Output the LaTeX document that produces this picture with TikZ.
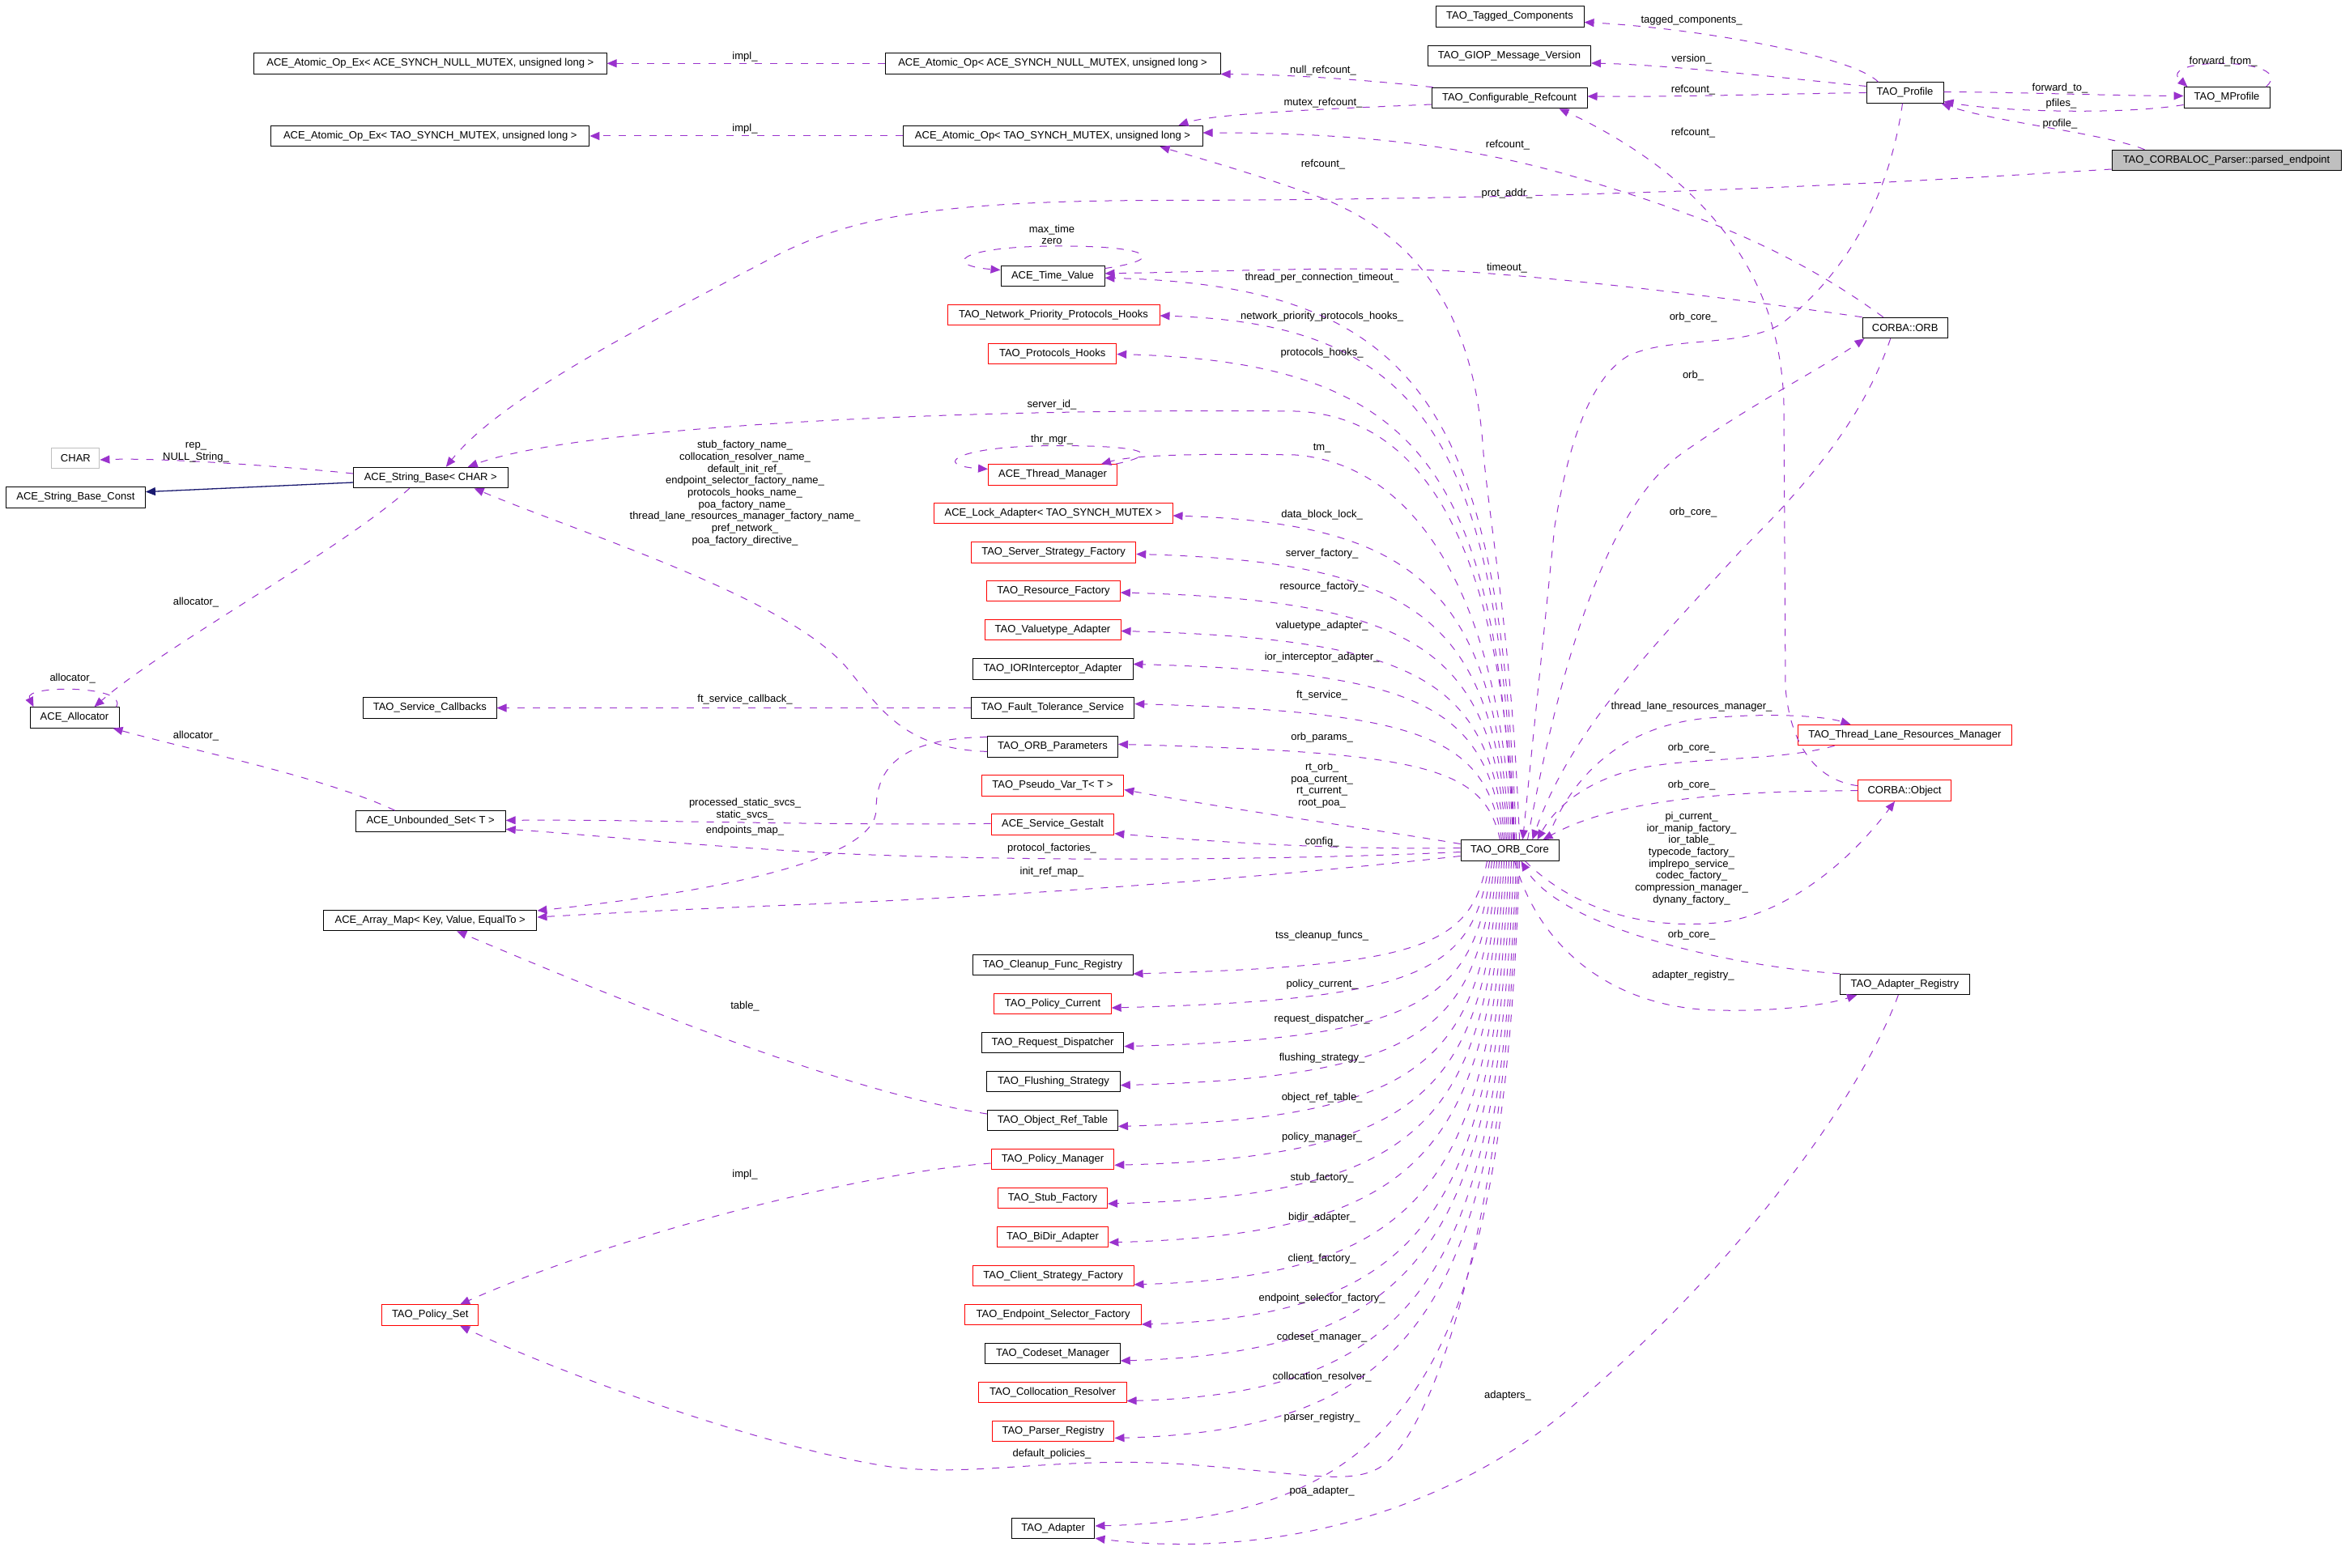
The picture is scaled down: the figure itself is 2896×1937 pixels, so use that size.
\documentclass[tikz,border=0pt]{standalone}
\usepackage{fontspec}
\setmainfont{Liberation Sans}
\usetikzlibrary{arrows.meta,calc}
\definecolor{edgec}{HTML}{9A32CD}
\definecolor{inhc}{HTML}{191970}
\definecolor{greyc}{HTML}{BFBFBF}
\newcommand\nf{\fontsize{13}{14.7}\selectfont}
% member edge from the top of TAO_ORB_Core to a node of the middle column
\newcommand\CoreUp[6]{%
  \coordinate (tA) at ($(#2.east)+(0,#3)$);
  \coordinate (S) at ($(core.north)+(#1,0)$);
  \coordinate (bx) at (#4,0);
  \draw[dep] (S) .. controls ($(S)!0.75!(S |- tA)+(-20,0)$) and ($(tA -| bx)+(0,10)$) .. (tA);
  \node[lbl] (l-#2) at (1632.6,#6) {#5};}
% member edge from the bottom of TAO_ORB_Core to a node of the middle column
\newcommand\CoreDown[6]{%
  \coordinate (tA) at ($(#2.east)+(0,#3)$);
  \coordinate (S) at ($(core.south)+(#1,0)$);
  \coordinate (bx) at (#4,0);
  \draw[dep] (S) .. controls ($(S)!0.75!(S |- tA)+(-20,0)$) and ($(tA -| bx)+(0,-10)$) .. (tA);
  \node[lbl] (l-#2) at (1632.6,#6) {#5};}
\begin{document}
\begin{tikzpicture}[x=1pt,y=-1pt,
  nbox/.style={draw=black, line width=1pt, fill=white, minimum height=25.5pt, inner sep=0pt, font=\nf},
  rbox/.style={nbox, draw=red},
  gbox/.style={nbox, draw=greyc},
  sbox/.style={nbox, fill=greyc},
  lbl/.style={inner sep=0pt, font=\nf, align=center},
  dep/.style={draw=edgec, line width=1pt, dash pattern=on 9pt off 10pt, -{Triangle[length=12pt,width=10pt]}},
  inh/.style={draw=inhc, line width=1.3pt, -{Triangle[length=12pt,width=10pt]}}]
\fill[white] (0,0) rectangle (2896,1937);
\useasboundingbox (0,0) rectangle (2896,1937);

% ---------------- nodes ----------------
\node[nbox, minimum width=183pt] (tagged) at (1864.5,20.5) {TAO\_Tagged\_Components};
\node[nbox, minimum width=201pt] (giop) at (1864,69) {TAO\_GIOP\_Message\_Version};
\node[nbox, minimum width=192pt] (confref) at (1864,121) {TAO\_Configurable\_Refcount};
\node[nbox, minimum width=95pt] (profile) at (2352.5,114.5) {TAO\_Profile};
\node[nbox, minimum width=106pt] (mprofile) at (2750,120.5) {TAO\_MProfile};
\node[sbox, minimum width=283pt] (parsed) at (2749.5,198) {TAO\_CORBALOC\_Parser::parsed\_endpoint};
\node[nbox, minimum width=414pt] (aopnull) at (1300,78.3) {ACE\_Atomic\_Op< ACE\_SYNCH\_NULL\_MUTEX, unsigned long >};
\node[nbox, minimum width=435.5pt] (aopexnull) at (531.3,78.3) {ACE\_Atomic\_Op\_Ex< ACE\_SYNCH\_NULL\_MUTEX, unsigned long >};
\node[nbox, minimum width=393pt] (aopextao) at (531.3,168) {ACE\_Atomic\_Op\_Ex< TAO\_SYNCH\_MUTEX, unsigned long >};
\node[nbox, minimum width=370pt] (aoptao) at (1300,168) {ACE\_Atomic\_Op< TAO\_SYNCH\_MUTEX, unsigned long >};
\node[nbox, minimum width=128pt] (timev) at (1300,340.8) {ACE\_Time\_Value};
\node[rbox, minimum width=262pt] (npph) at (1301,389) {TAO\_Network\_Priority\_Protocols\_Hooks};
\node[rbox, minimum width=158pt] (ph) at (1299.7,437) {TAO\_Protocols\_Hooks};
\node[rbox, minimum width=159pt] (threadm) at (1300,586.4) {ACE\_Thread\_Manager};
\node[rbox, minimum width=295pt] (lockad) at (1300.5,634) {ACE\_Lock\_Adapter< TAO\_SYNCH\_MUTEX >};
\node[gbox, minimum width=59pt] (charn) at (93.4,566) {CHAR};
\node[nbox, minimum width=190.5pt] (strbase) at (531.8,590) {ACE\_String\_Base< CHAR >};
\node[nbox, minimum width=172pt] (strconst) at (93.4,614.6) {ACE\_String\_Base\_Const};
\node[rbox, minimum width=203.4pt] (ssf) at (1301,682.5) {TAO\_Server\_Strategy\_Factory};
\node[rbox, minimum width=164.6pt] (rf) at (1301,730) {TAO\_Resource\_Factory};
\node[rbox, minimum width=168pt] (vta) at (1300,778) {TAO\_Valuetype\_Adapter};
\node[nbox, minimum width=198pt] (iori) at (1300,826.4) {TAO\_IORInterceptor\_Adapter};
\node[nbox, minimum width=201.6pt] (fts) at (1300,874.5) {TAO\_Fault\_Tolerance\_Service};
\node[nbox, minimum width=161pt] (orbp) at (1300,922.4) {TAO\_ORB\_Parameters};
\node[rbox, minimum width=175.7pt] (pvar) at (1300,970.5) {TAO\_Pseudo\_Var\_T< T >};
\node[rbox, minimum width=151.7pt] (gestalt) at (1300,1018.4) {ACE\_Service\_Gestalt};
\node[nbox, minimum width=198pt] (cleanup) at (1300,1192) {TAO\_Cleanup\_Func\_Registry};
\node[rbox, minimum width=144.3pt] (polcur) at (1300,1240) {TAO\_Policy\_Current};
\node[nbox, minimum width=175.7pt] (reqd) at (1300,1288) {TAO\_Request\_Dispatcher};
\node[nbox, minimum width=164.5pt] (svccb) at (530.8,874.5) {TAO\_Service\_Callbacks};
\node[nbox, minimum width=110pt] (alloc) at (92,886.5) {ACE\_Allocator};
\node[nbox, minimum width=185pt] (uset) at (531.7,1014.4) {ACE\_Unbounded\_Set< T >};
\node[nbox, minimum width=263.5pt] (amap) at (531.2,1137) {ACE\_Array\_Map< Key, Value, EqualTo >};
\node[nbox, minimum width=164.6pt] (flush) at (1301,1336) {TAO\_Flushing\_Strategy};
\node[nbox, minimum width=161pt] (ort) at (1300,1384) {TAO\_Object\_Ref\_Table};
\node[rbox, minimum width=151.7pt] (polman) at (1300,1432) {TAO\_Policy\_Manager};
\node[rbox, minimum width=135pt] (stubf) at (1300,1480) {TAO\_Stub\_Factory};
\node[rbox, minimum width=137.8pt] (bidir) at (1300,1528) {TAO\_BiDir\_Adapter};
\node[rbox, minimum width=198.8pt] (csf) at (1300.6,1576) {TAO\_Client\_Strategy\_Factory};
\node[rbox, minimum width=217.3pt] (esf) at (1300.6,1624) {TAO\_Endpoint\_Selector\_Factory};
\node[nbox, minimum width=166.4pt] (codeset) at (1300,1672) {TAO\_Codeset\_Manager};
\node[rbox, minimum width=182.2pt] (colres) at (1300,1720) {TAO\_Collocation\_Resolver};
\node[rbox, minimum width=150.7pt] (parser) at (1300.6,1768) {TAO\_Parser\_Registry};
\node[nbox, minimum width=102.7pt] (adapter) at (1300.6,1888) {TAO\_Adapter};
\node[rbox, minimum width=119.3pt] (polset) at (531.2,1624.6) {TAO\_Policy\_Set};
\node[nbox, minimum width=105.4pt] (orb) at (2352.7,405) {CORBA::ORB};
\node[nbox, minimum width=121pt] (core) at (1864.5,1050.5) {TAO\_ORB\_Core};
\node[rbox, minimum width=264.7pt] (tlrm) at (2352.4,908) {TAO\_Thread\_Lane\_Resources\_Manager};
\node[rbox, minimum width=114.3pt] (object) at (2352,976.7) {CORBA::Object};
\node[nbox, minimum width=159.4pt] (adreg) at (2352.3,1216) {TAO\_Adapter\_Registry};

% ---------------- top right ----------------
\draw[dep] ($(profile.north west)+(15,0)$) .. controls (2290,70) and (2100,35) .. ($(tagged.east)+(0,7)$);
\node[lbl] (l1) at (2089,25) {tagged\_components\_};
\draw[dep] ($(profile.west)+(0,-8)$) .. controls (2200,96) and (2060,80) .. ($(giop.east)+(0,9)$);
\node[lbl] (l2) at (2089,73) {version\_};
\draw[dep] (profile.west) .. controls (2200,116) and (2060,120) .. ($(confref.east)+(0,-2)$);
\node[lbl] (l3) at (2091,111) {refcount\_};
\draw[dep] ($(profile.east)+(0,-1)$) .. controls (2500,114) and (2600,118) .. ($(mprofile.west)+(0,-2)$);
\node[lbl] (l4) at (2544,109) {forward\_to\_};
\draw[dep] ($(mprofile.west)+(0,9)$) .. controls (2620,142) and (2470,138) .. ($(profile.east)+(0,11)$);
\node[lbl] (l5) at (2545.5,128.5) {pfiles\_};
\draw[dep] ($(mprofile.north east)+(-5,0)$) .. controls (2840,70) and (2660,70) .. ($(mprofile.north west)+(5,0)$);
\node[lbl] (l6) at (2745.6,76) {forward\_from\_};
\draw[dep] ($(parsed.north west)+(41,0)$) .. controls (2600,165) and (2460,150) .. ($(profile.south east)+(-3,0)$);
\node[lbl] (l7) at (2544,153.4) {profile\_};
\draw[dep] ($(parsed.west)+(0,11)$) .. controls (2350,225) and (2000,246) .. (1450,247.5)
   .. controls (1150,247) and (1050,270) .. (960,315) .. controls (800,400) and (620,490) .. ($(strbase.north)+(19,0)$);
\node[lbl] (l8) at (1861,239) {prot\_addr\_};
\draw[dep] ($(confref.north west)+(2,0)$) .. controls (1700,100) and (1600,92) .. (aopnull.south east);
\node[lbl] (l9) at (1634,87) {null\_refcount\_};
\draw[dep] ($(confref.west)+(0,8)$) .. controls (1650,134) and (1500,140) .. ($(aoptao.north east)+(-30,0)$);
\node[lbl] (l10) at (1634,127) {mutex\_refcount\_};
\draw[dep] (aopnull.west) -- (aopexnull.east);
\node[lbl] (l11) at (920,70.5) {impl\_};
\draw[dep] (aoptao.west) -- (aopextao.east);
\node[lbl] (l12) at (920,159.6) {impl\_};
\draw[dep] ($(orb.north)+(-27,0)$) .. controls (2200,300) and (2080,260) .. (1950,220)
   .. controls (1800,175) and (1650,164) .. ($(aoptao.east)+(0,-4)$);
\node[lbl] (l13) at (1862,178.7) {refcount\_};
\draw[dep] ($(core.north)+(12,0)$) .. controls (1868,800) and (1840,650) .. (1832,560)
   .. controls (1822,400) and (1760,290) .. (1620,240) .. controls (1540,212) and (1480,195) .. ($(aoptao.south east)+(-53,0)$);
\node[lbl] (l14) at (1634,202.7) {refcount\_};
\draw[dep] ($(object.west)+(0,-6)$) .. controls (2250,965) and (2212,930) .. (2205,850) -- (2203,500)
   .. controls (2200,380) and (2150,290) .. (2060,215) .. controls (2010,175) and (1960,150) .. ($(confref.south east)+(-35,0)$);
\node[lbl] (l15) at (2091,163.8) {refcount\_};

% ---------------- time value ----------------
\draw[dep] ($(timev.north east)+(0,4)$) .. controls (1445,320) and (1420,303) .. (1300,304)
   .. controls (1180,305) and (1165,328) .. ($(timev.north west)+(0,6)$);
\node[lbl] (l16) at (1299,290) {max\_time\\zero};
\draw[dep] (orb.north west) .. controls (2150,370) and (1950,345) .. (1800,335)
   .. controls (1650,328) and (1500,336) .. ($(timev.east)+(0,-3)$);
\node[lbl] (l17) at (1861,330.8) {timeout\_};

% ---------------- ORB_Core upper fan ----------------
\CoreUp{8}{timev}{2.5}{1765}{thread\_per\_connection\_timeout\_}{343.3}
\CoreUp{6}{npph}{1}{1765}{network\_priority\_protocols\_hooks\_}{391}
\CoreUp{4}{ph}{0.5}{1762}{protocols\_hooks\_}{436.6}
\draw[dep] ($(core.north)+(5,0)$) .. controls (1858,720) and (1780,515) .. (1600,508)
   .. controls (1200,504) and (720,525) .. ($(strbase.north)+(46,0)$);
\node[lbl] (l18) at (1299,499.6) {server\_id\_};
\draw[dep] ($(core.north)+(2,0)$) .. controls (1855,760) and (1760,575) .. (1600,562)
   .. controls (1480,560) and (1400,562) .. ($(threadm.north east)+(-20,0)$);
\node[lbl] (l19) at (1632.6,553.5) {tm\_};
\draw[dep] ($(threadm.north east)+(-2,0)$) .. controls (1440,560) and (1410,550) .. (1300,550.6)
   .. controls (1180,551) and (1150,575) .. ($(threadm.west)+(0,-7)$);
\node[lbl] (l20) at (1299,543) {thr\_mgr\_};
\CoreUp{0}{lockad}{3}{1760}{data\_block\_lock\_}{636.4}
\CoreUp{-2}{ssf}{2}{1760}{server\_factory\_}{684}
\CoreUp{-4}{rf}{2}{1760}{resource\_factory\_}{725}
\CoreUp{-6}{vta}{1.5}{1760}{valuetype\_adapter\_}{772.7}
\CoreUp{-8}{iori}{-6}{1760}{ior\_interceptor\_adapter\_}{811.7}
\CoreUp{-10}{fts}{-5}{1760}{ft\_service\_}{859.4}
\CoreUp{-12}{orbp}{-3}{1765}{orb\_params\_}{911}
\draw[dep] ($(core.west)+(0,-8)$) .. controls (1700,1025) and (1520,1000) .. ($(pvar.east)+(0,5)$);
\node[lbl] (l21) at (1632.6,970.1) {rt\_orb\_\\poa\_current\_\\rt\_current\_\\root\_poa\_};
\draw[dep] ($(core.west)+(0,-3)$) .. controls (1650,1050) and (1500,1040) .. ($(gestalt.south east)+(0,-2)$);
\node[lbl] (l22) at (1632.6,1039.7) {config\_};
\draw[dep] ($(core.west)+(0,2)$) .. controls (1600,1062) and (1300,1065) .. (1050,1055)
   .. controls (850,1045) and (720,1030) .. ($(uset.east)+(0,10)$);
\node[lbl] (l23) at (1299,1048) {protocol\_factories\_};
\draw[dep] ($(core.west)+(0,7)$) .. controls (1600,1080) and (1300,1105) .. (1000,1117)
   .. controls (850,1123) and (750,1128) .. ($(amap.east)+(0,-4)$);
\node[lbl] (l24) at (1299,1077) {init\_ref\_map\_};

% ---------------- middle-left ----------------
\draw[dep] (fts.west) -- (svccb.east);
\node[lbl] (l25) at (920,864.3) {ft\_service\_callback\_};
\draw[dep] ($(gestalt.west)+(0,-1)$) .. controls (1000,1020) and (800,1012) .. ($(uset.east)+(0,-1)$);
\node[lbl] (l26) at (920,999.3) {processed\_static\_svcs\_\\static\_svcs\_};
\draw[dep] ($(orbp.west)+(0,6)$) .. controls (1120,925) and (1090,880) .. (1050,830)
   .. controls (980,740) and (720,660) .. ($(strbase.south east)+(-42,0)$);
\node[lbl] (l27) at (920,609.2) {stub\_factory\_name\_\\collocation\_resolver\_name\_\\default\_init\_ref\_\\endpoint\_selector\_factory\_name\_\\protocols\_hooks\_name\_\\poa\_factory\_name\_\\thread\_lane\_resources\_manager\_factory\_name\_\\pref\_network\_\\poa\_factory\_directive\_};
\draw[dep] ($(orbp.west)+(0,-12)$) .. controls (1110,912) and (1082,950) .. (1082,1000)
   .. controls (1082,1060) and (900,1100) .. ($(amap.east)+(0,-12)$);
\node[lbl] (l28) at (920,1026.4) {endpoints\_map\_};
\draw[dep] ($(uset.north)+(-44,0)$) .. controls (400,960) and (250,930) .. ($(alloc.south east)+(-8,0)$);
\node[lbl] (l29) at (242,909) {allocator\_};
\draw[dep] ($(strbase.south)+(-26,0)$) .. controls (420,680) and (200,800) .. ($(alloc.north east)+(-31,0)$);
\node[lbl] (l30) at (242,744.5) {allocator\_};
\draw[dep] ($(alloc.north east)+(-4,0)$) .. controls (160,846) and (28,846) .. ($(alloc.north west)+(5,0)$);
\node[lbl] (l31) at (89.7,838.5) {allocator\_};
\draw[dep] ($(strbase.west)+(0,-5)$) .. controls (360,577) and (200,565) .. ($(charn.east)+(0,2)$);
\node[lbl] (l32) at (242,558.7) {rep\_\\NULL\_String\_};
\draw[inh] ($(strbase.west)+(0,6)$) -- ($(strconst.east)+(0,-7)$);
\draw[dep] ($(ort.west)+(0,-8)$) .. controls (1050,1350) and (800,1250) .. ($(amap.south)+(33,0)$);
\node[lbl] (l33) at (920,1242.9) {table\_};
\draw[dep] ($(polman.west)+(0,5)$) .. controls (1050,1450) and (750,1530) .. ($(polset.north)+(37,0)$);
\node[lbl] (l34) at (920,1451) {impl\_};

% ---------------- ORB_Core lower fan ----------------
\CoreDown{-28}{cleanup}{11}{1760}{tss\_cleanup\_funcs\_}{1155.8}
\CoreDown{-25}{polcur}{5}{1760}{policy\_current\_}{1216}
\CoreDown{-22}{reqd}{4.6}{1760}{request\_dispatcher\_}{1259.5}
\CoreDown{-19}{flush}{4.6}{1760}{flushing\_strategy\_}{1307.3}
\CoreDown{-16}{ort}{7.4}{1760}{object\_ref\_table\_}{1356}
\CoreDown{-13}{polman}{7.3}{1760}{policy\_manager\_}{1404.8}
\CoreDown{-10}{stubf}{7}{1760}{stub\_factory\_}{1455}
\CoreDown{-7}{bidir}{6.8}{1760}{bidir\_adapter\_}{1504}
\CoreDown{-4}{csf}{10.8}{1760}{client\_factory\_}{1555}
\CoreDown{-1}{esf}{12}{1760}{endpoint\_selector\_factory\_}{1604}
\CoreDown{2}{codeset}{9}{1760}{codeset\_manager\_}{1652.6}
\CoreDown{5}{colres}{10.6}{1760}{collocation\_resolver\_}{1701.4}
\CoreDown{8}{parser}{8.5}{1760}{parser\_registry\_}{1751}
\draw[dep] ($(core.south)+(10,0)$) .. controls (1862,1500) and (1770,1780) .. (1700,1815)
   .. controls (1660,1835) and (1600,1818) .. (1450,1808) .. controls (1300,1800) and (1200,1825) .. (1100,1812)
   .. controls (950,1790) and (700,1700) .. ($(polset.south)+(37,0)$);
\node[lbl] (l35) at (1299,1796.5) {default\_policies\_};
\CoreDown{12}{adapter}{-3}{1750}{poa\_adapter\_}{1842.4}
\draw[dep] ($(adreg.south)+(-8,0)$) .. controls (2300,1350) and (2150,1560) .. (1950,1730)
   .. controls (1780,1880) and (1550,1925) .. ($(adapter.south east)+(0,-1)$);
\node[lbl] (l36) at (1862,1724.5) {adapters\_};

% ---------------- right side ----------------
\draw[dep] ($(profile.south)+(-3,0)$) .. controls (2335,230) and (2290,330) .. (2200,400)
   .. controls (2150,430) and (2060,415) .. (2010,440) .. controls (1960,470) and (1935,560) .. (1920,650)
   -- ($(core.north)+(16,0)$);
\node[lbl] (l37) at (2091,391.8) {orb\_core\_};
\draw[dep] ($(core.north)+(22,0)$) .. controls (1930,800) and (1990,620) .. (2080,558)
   .. controls (2170,495) and (2250,455) .. ($(orb.south west)+(3,0)$);
\node[lbl] (l38) at (2091,464.3) {orb\_};
\draw[dep] ($(orb.south)+(-18,0)$) .. controls (2300,520) and (2230,600) .. (2150,680)
   .. controls (2050,790) and (1940,900) .. ($(core.north)+(28,0)$);
\node[lbl] (l39) at (2091,633) {orb\_core\_};
\draw[dep] ($(core.north)+(46,0)$) .. controls (1940,960) and (2000,900) .. (2100,888)
   .. controls (2180,880) and (2250,884) .. ($(tlrm.north)+(-67,0)$);
\node[lbl] (l40) at (2089,873) {thread\_lane\_resources\_manager\_};
\draw[dep] ($(tlrm.south west)+(46,0)$) .. controls (2200,940) and (2100,935) .. (2030,948)
   .. controls (1970,960) and (1925,990) .. ($(core.north)+(34,0)$);
\node[lbl] (l41) at (2089,924) {orb\_core\_};
\draw[dep] (object.west) .. controls (2150,977) and (2000,985) .. ($(core.north)+(41,0)$);
\node[lbl] (l42) at (2089,970.5) {orb\_core\_};
\draw[dep] ($(core.south)+(19,0)$) .. controls (1930,1110) and (2010,1150) .. (2120,1140)
   .. controls (2200,1132) and (2280,1070) .. ($(object.south)+(-12,0)$);
\node[lbl] (l43) at (2089,1060.5) {pi\_current\_\\ior\_manip\_factory\_\\ior\_table\_\\typecode\_factory\_\\implrepo\_service\_\\codec\_factory\_\\compression\_manager\_\\dynany\_factory\_};
\draw[dep] (adreg.north west) .. controls (2150,1195) and (1930,1150) .. ($(core.south)+(14,0)$);
\node[lbl] (l44) at (2089,1155) {orb\_core\_};
\draw[dep] ($(core.south)+(6,0)$) .. controls (1900,1170) and (1990,1245) .. (2120,1248)
   .. controls (2200,1250) and (2260,1240) .. ($(adreg.south west)+(21,0)$);
\node[lbl] (l45) at (2091,1204.7) {adapter\_registry\_};
\end{tikzpicture}
\end{document}
